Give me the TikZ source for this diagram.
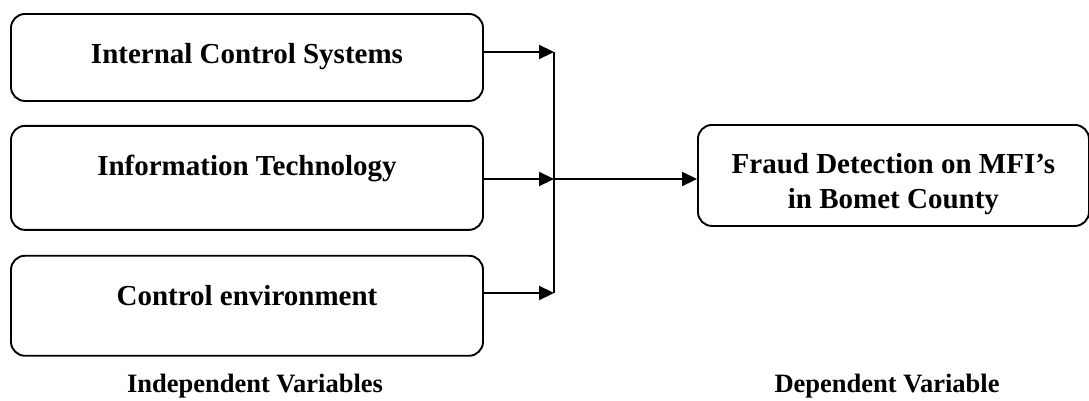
\documentclass[tikz,border=0pt]{standalone}
\usepackage{fontspec}
\setmainfont{Liberation Serif}
\usetikzlibrary{arrows.meta, positioning}

\begin{document}
\begin{tikzpicture}[
    x=1pt, y=-1pt,
    font=\fontsize{29}{35}\selectfont\bfseries,
    >={Triangle[length=15pt, width=14pt]},
    box/.style={draw, line width=1.9pt, rounded corners=14pt, align=center, inner xsep=0pt, inner ysep=0pt, text height=50pt},
    ivbox/.style={box, minimum width=472pt},
    dvbox/.style={box, minimum width=391pt, text height=84pt, text depth=17pt},
    line/.style={->, line width=2.2pt},
    caption/.style={font=\fontsize{26.5}{32}\selectfont\bfseries, anchor=base}
]
\useasboundingbox (0,0) rectangle (1089,400);

% ===== INDEPENDENT VARIABLES =====
\node[ivbox, text depth=37pt, anchor=north] (ics) at (247,13) {Internal Control Systems};
\node[ivbox, text depth=54pt, below=23pt of ics] (it) {Information Technology};
\node[ivbox, text depth=50pt, below=24pt of it] (ce) {Control environment};

% ===== DEPENDENT VARIABLE =====
\node[dvbox, anchor=north west] (fd) at (697,124) {Fraud Detection on MFI’s\\in Bomet County};

% ===== JUNCTION =====
\coordinate (j1) at (554,52);
\coordinate (j2) at (554,179);
\coordinate (j3) at (554,293);

% ===== CONNECTIONS =====
\draw[line] (j1 -| ics.east) -- (j1);
\draw[line] (j2 -| it.east) -- (j2);
\draw[line] (j3 -| ce.east) -- (j3);
\draw[line width=2.2pt] (j1) -- (j3);
\draw[line] (j2) -- (j2 -| fd.west);

% ===== CAPTIONS =====
\node[caption] (iv) at (255,392) {Independent Variables};
\node[caption] (dv) at (887,392) {Dependent Variable};

\end{tikzpicture}
\end{document}
